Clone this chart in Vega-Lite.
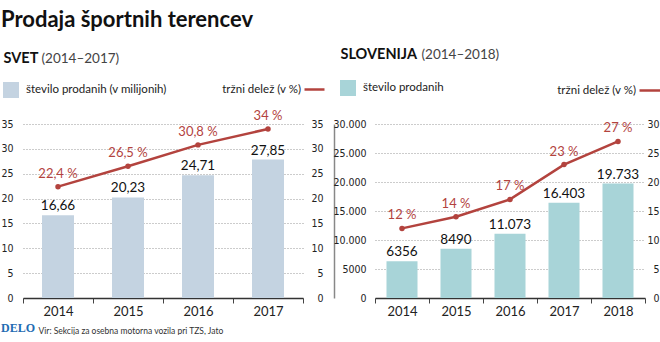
{
  "$schema": "https://vega.github.io/schema/vega-lite/v6.json",
  "padding": {"left": 0, "right": 0, "top": 9, "bottom": 0},
  "background": "white",
  "title": {"text": "Prodaja športnih terencev", "anchor": "start", "font": "Lato", "fontSize": 22, "fontWeight": "bold", "color": "#111", "offset": 14},
  "datasets": {
    "svet": [
      {"year": "2014", "count": 16.66, "countLabel": "16,66", "share": 22.4, "shareLabel": "22,4 %"},
      {"year": "2015", "count": 20.23, "countLabel": "20,23", "share": 26.5, "shareLabel": "26,5 %"},
      {"year": "2016", "count": 24.71, "countLabel": "24,71", "share": 30.8, "shareLabel": "30,8 %"},
      {"year": "2017", "count": 27.85, "countLabel": "27,85", "share": 34, "shareLabel": "34 %"}
    ],
    "slo": [
      {"year": "2014", "count": 6356, "countLabel": "6356", "share": 12, "shareLabel": "12 %"},
      {"year": "2015", "count": 8490, "countLabel": "8490", "share": 14, "shareLabel": "14 %"},
      {"year": "2016", "count": 11073, "countLabel": "11.073", "share": 17, "shareLabel": "17 %"},
      {"year": "2017", "count": 16403, "countLabel": "16.403", "share": 23, "shareLabel": "23 %"},
      {"year": "2018", "count": 19733, "countLabel": "19.733", "share": 27, "shareLabel": "27 %"}
    ]
  },
  "config": {
    "view": {"stroke": null},
    "font": "Lato",
    "axis": {"labelFont": "DejaVu Sans Condensed, Roboto Condensed, Liberation Sans Narrow, Roboto", "labelFontSize": 10.5, "labelColor": "#222", "ticks": false, "grid": false, "labelOverlap": false},
    "axisY": {"domain": false},
    "legend": {"labelFont": "Lato", "labelFontSize": 11.5, "labelColor": "#222", "padding": 0}
  },
  "vconcat": [
    {
      "title": {"text": "DELO", "orient": "bottom", "anchor": "start", "font": "Liberation Serif", "fontSize": 12, "fontWeight": "bold", "color": "#1f6db3", "baseline": "alphabetic", "offset": -3},
      "spacing": -2,
      "resolve": {"scale": {"x": "independent", "y": "independent", "fill": "independent", "stroke": "independent"}, "legend": {"fill": "independent", "stroke": "independent"}},
      "hconcat": [
        {
          "width": 280, "height": 174,
          "data": {"name": "svet"},
          "resolve": {"scale": {"y": "independent"}},
          "encoding": {
            "x": {"field": "year", "type": "ordinal", "scale": {"paddingInner": 0, "paddingOuter": 0},
              "axis": {"domain": true, "domainColor": "#333", "domainWidth": 1.5, "ticks": true, "tickColor": "#444", "tickSize": 5, "tickBand": "extent", "labelAngle": 0, "labelFont": "Lato", "labelFontSize": 13, "labelColor": "#222", "labelPadding": 2,
                "title": "Vir: Sekcija za osebna motorna vozila pri TZS, Jato", "titleX": 15, "titleY": 35, "titleAlign": "left", "titleBaseline": "alphabetic", "titleFont": "Lato", "titleFontSize": 8.5, "titleFontWeight": "normal", "titleColor": "#333"}}
          },
          "layer": [
            {
              "encoding": {
                "y": {"field": "count", "type": "quantitative", "scale": {"domain": [0, 35], "nice": false},
                  "axis": {"values": [0, 5, 10, 15, 20, 25, 30, 35], "grid": true, "gridDash": [1, 2], "gridColor": "#999", "labelPadding": 10,
                    "title": "SVET", "titleAngle": 0, "titleAlign": "left", "titleBaseline": "alphabetic", "titleX": -20, "titleY": -62, "titleFont": "Lato", "titleFontSize": 14.5, "titleFontWeight": "bold", "titleColor": "#111"}}
              },
              "layer": [
                {"mark": {"type": "bar", "width": 32},
                 "encoding": {
                   "fill": {"datum": "število prodanih (v milijonih)", "scale": {"range": ["#c4d3e1"]},
                     "legend": {"orient": "none", "legendX": -20, "legendY": -42, "title": null, "symbolType": "square", "symbolSize": 256, "symbolStrokeWidth": 0, "labelOffset": 7}}
                 }},
                {"mark": {"type": "text", "dy": -5, "baseline": "alphabetic", "fontSize": 13.5, "color": "#111", "font": "Lato"},
                 "encoding": {"text": {"field": "countLabel"}}}
              ]
            },
            {
              "encoding": {
                "y": {"field": "share", "type": "quantitative", "scale": {"domain": [0, 35], "nice": false},
                  "axis": {"orient": "right", "values": [0, 5, 10, 15, 20, 25, 30, 35], "labelAlign": "right", "labelPadding": -11, "offset": 31, "domain": true, "domainColor": "#888", "domainWidth": 1.5,
                    "title": "(2014–2017)", "titleAngle": 0, "titleAlign": "left", "titleBaseline": "alphabetic", "titleX": -293, "titleY": -62, "titleFont": "Lato", "titleFontSize": 13.5, "titleFontWeight": "normal", "titleColor": "#444"}}
              },
              "layer": [
                {"mark": {"type": "line", "strokeWidth": 2.5},
                 "encoding": {
                   "stroke": {"datum": "tržni delež (v %)", "scale": {"range": ["#b3433e"]},
                     "legend": {"orient": "none", "legendX": 280, "legendY": -46, "title": null, "symbolType": "stroke", "symbolSize": 400, "symbolStrokeWidth": 2.5, "labelAlign": "right", "labelOffset": -25}}
                 }},
                {"mark": {"type": "point", "filled": true, "size": 30, "color": "#b3433e", "opacity": 1}, "encoding": {}},
                {"mark": {"type": "text", "dy": -9, "baseline": "alphabetic", "fontSize": 13, "color": "#b3433e", "font": "Lato"},
                 "encoding": {"text": {"field": "shareLabel"}}}
              ]
            }
          ]
        },
        {
          "width": 270, "height": 174,
          "data": {"name": "slo"},
          "resolve": {"scale": {"y": "independent"}},
          "encoding": {
            "x": {"field": "year", "type": "ordinal", "scale": {"paddingInner": 0, "paddingOuter": 0},
              "axis": {"domain": true, "domainColor": "#333", "domainWidth": 1.5, "ticks": true, "tickColor": "#444", "tickSize": 5, "tickBand": "extent", "labelAngle": 0, "labelFont": "Lato", "labelFontSize": 13, "labelColor": "#222", "labelPadding": 2, "title": null}}
          },
          "layer": [
            {
              "encoding": {
                "y": {"field": "count", "type": "quantitative", "scale": {"domain": [0, 30000], "nice": false},
                  "axis": {"values": [0, 5000, 10000, 15000, 20000, 25000, 30000], "grid": true, "gridDash": [1, 2], "gridColor": "#999", "labelPadding": 9,
                    "labelExpr": "datum.value >= 10000 ? replace(format(datum.value, ','), ',', '.') : format(datum.value, 'd')",
                    "title": "SLOVENIJA", "titleAngle": 0, "titleAlign": "left", "titleBaseline": "alphabetic", "titleX": -35, "titleY": -66, "titleFont": "Lato", "titleFontSize": 14.5, "titleFontWeight": "bold", "titleColor": "#111"}}
              },
              "layer": [
                {"mark": {"type": "bar", "width": 31},
                 "encoding": {
                   "fill": {"datum": "število prodanih", "scale": {"range": ["#a8d4d8"]},
                     "legend": {"orient": "none", "legendX": -35, "legendY": -44, "title": null, "symbolType": "square", "symbolSize": 256, "symbolStrokeWidth": 0, "labelOffset": 7}}
                 }},
                {"mark": {"type": "text", "dy": -5, "baseline": "alphabetic", "fontSize": 13.5, "color": "#111", "font": "Lato"},
                 "encoding": {"text": {"field": "countLabel"}}}
              ]
            },
            {
              "encoding": {
                "y": {"field": "share", "type": "quantitative", "scale": {"domain": [0, 30], "nice": false},
                  "axis": {"orient": "right", "values": [0, 5, 10, 15, 20, 25, 30], "labelAlign": "right", "labelPadding": 14,
                    "title": "(2014–2018)", "titleAngle": 0, "titleAlign": "left", "titleBaseline": "alphabetic", "titleX": -224, "titleY": -66, "titleFont": "Lato", "titleFontSize": 13.5, "titleFontWeight": "normal", "titleColor": "#444"}}
              },
              "layer": [
                {"mark": {"type": "line", "strokeWidth": 2.5},
                 "encoding": {
                   "stroke": {"datum": "tržni delež (v %)", "scale": {"range": ["#b3433e"]},
                     "legend": {"orient": "none", "legendX": 263, "legendY": -46, "title": null, "symbolType": "stroke", "symbolSize": 484, "symbolStrokeWidth": 2.5, "labelAlign": "right", "labelOffset": -27}}
                 }},
                {"mark": {"type": "point", "filled": true, "size": 30, "color": "#b3433e", "opacity": 1}, "encoding": {}},
                {"mark": {"type": "text", "dy": -9, "baseline": "alphabetic", "fontSize": 13, "color": "#b3433e", "font": "Lato"},
                 "encoding": {"text": {"field": "shareLabel"}}}
              ]
            }
          ]
        }
      ]
    }
  ]
}
